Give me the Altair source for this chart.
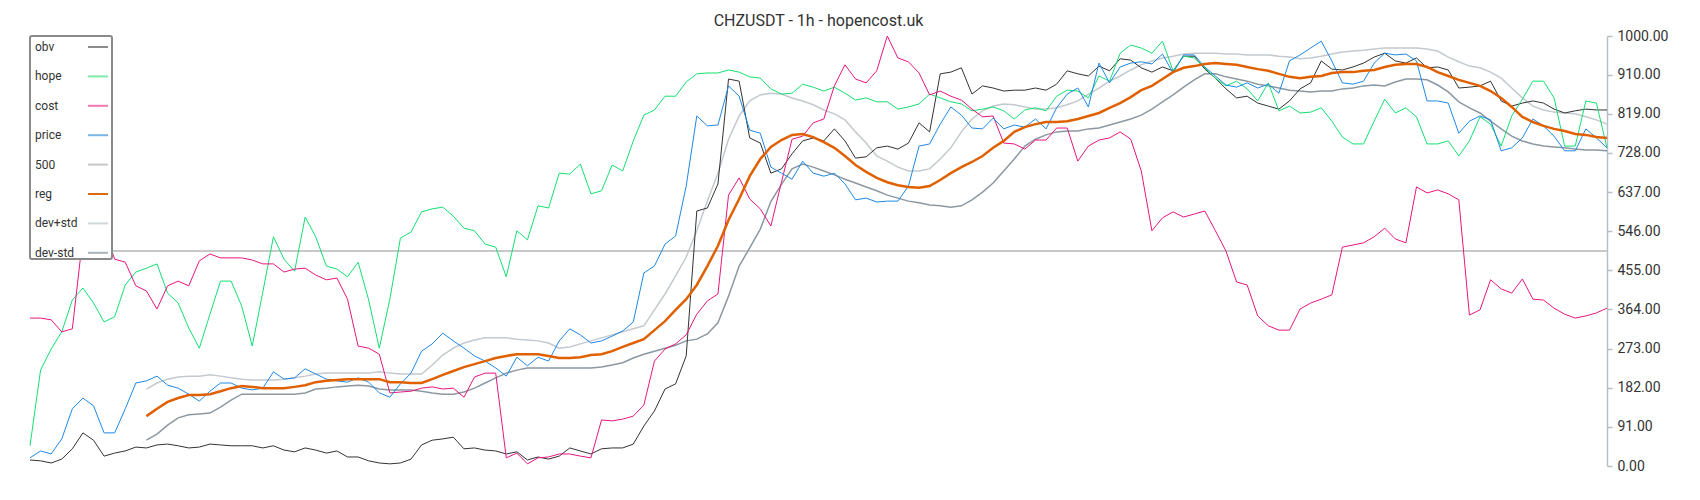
import altair as alt
import pandas as pd

# x positions: 150 evenly spaced samples across the chart
N = 150
idx = list(range(N))

obv = [14, 12, 7, 16, 40, 77, 60, 23, 30, 35,
       44, 42, 49, 51, 47, 42, 44, 51, 49, 47,
       47, 47, 42, 47, 37, 33, 42, 37, 30, 35,
       21, 21, 12, 7, 5, 7, 16, 49, 60, 63,
       67, 40, 42, 37, 35, 28, 33, 14, 21, 16,
       23, 42, 35, 28, 40, 42, 42, 51, 93, 128,
       179, 191, 256, 593, 600, 656, 900, 895, 763, 751,
       681, 691, 726, 756, 763, 756, 784, 756, 716, 719,
       740, 744, 737, 751, 798, 777, 912, 916, 926, 865,
       884, 879, 872, 874, 874, 879, 874, 888, 919, 912,
       907, 930, 919, 947, 944, 926, 916, 928, 919, 953,
       953, 923, 902, 877, 856, 860, 844, 837, 830, 849,
       877, 891, 942, 923, 921, 928, 937, 951, 960, 942,
       937, 949, 926, 928, 921, 879, 881, 884, 895, 849,
       837, 844, 849, 844, 830, 821, 826, 830, 828, 828]

hope = [47, 223, 272, 312, 386, 414, 379, 335, 347, 421,
        451, 460, 470, 402, 379, 321, 274, 353, 430, 430,
        372, 279, 405, 533, 481, 453, 579, 533, 465, 458,
        440, 474, 386, 274, 388, 530, 544, 591, 598, 602,
        581, 553, 547, 516, 509, 440, 547, 526, 605, 600,
        681, 679, 702, 633, 640, 700, 686, 756, 816, 828,
        860, 860, 893, 912, 914, 914, 921, 916, 905, 902,
        877, 865, 867, 888, 881, 872, 881, 867, 851, 856,
        847, 847, 830, 835, 842, 865, 856, 847, 842, 826,
        830, 835, 826, 807, 828, 833, 826, 860, 874, 872,
        856, 907, 895, 960, 979, 972, 960, 988, 919, 953,
        949, 926, 902, 884, 895, 877, 849, 891, 826, 837,
        821, 823, 833, 802, 765, 749, 749, 802, 853, 821,
        833, 812, 749, 749, 756, 721, 756, 812, 795, 744,
        814, 853, 895, 895, 856, 744, 744, 849, 844, 740]

cost = [344, 344, 340, 312, 319, 535, 558, 551, 481, 474,
        419, 407, 365, 419, 430, 419, 477, 493, 484, 484,
        484, 479, 470, 470, 451, 458, 460, 444, 433, 437,
        388, 279, 274, 260, 170, 172, 174, 181, 184, 179,
        181, 160, 207, 216, 216, 19, 30, 5, 19, 21,
        28, 28, 23, 19, 107, 105, 109, 116, 142, 244,
        272, 284, 305, 353, 384, 400, 630, 670, 621, 598,
        558, 660, 760, 767, 798, 807, 884, 933, 900, 891,
        919, 1000, 949, 940, 914, 863, 872, 860, 851, 830,
        812, 814, 751, 749, 737, 758, 758, 786, 786, 709,
        744, 758, 763, 777, 760, 686, 547, 577, 591, 579,
        586, 593, 547, 500, 428, 421, 349, 326, 316, 316,
        365, 379, 388, 398, 509, 514, 519, 533, 553, 528,
        519, 649, 635, 642, 633, 619, 351, 363, 433, 412,
        402, 435, 388, 386, 367, 353, 344, 349, 356, 367]

price = [19, 35, 28, 63, 133, 158, 140, 77, 77, 133,
         193, 198, 209, 188, 181, 167, 151, 174, 193, 193,
         181, 177, 181, 219, 202, 205, 226, 214, 202, 198,
         195, 205, 195, 170, 160, 191, 216, 267, 284, 309,
         291, 274, 256, 244, 228, 209, 253, 233, 253, 244,
         291, 319, 305, 286, 291, 302, 314, 335, 449, 465,
         516, 535, 651, 814, 791, 793, 884, 860, 781, 774,
         695, 681, 667, 709, 681, 674, 681, 656, 619, 623,
         614, 616, 616, 651, 744, 749, 795, 835, 816, 786,
         784, 809, 784, 793, 788, 807, 784, 833, 865, 879,
         835, 937, 891, 928, 937, 940, 935, 958, 914, 956,
         956, 928, 907, 886, 881, 891, 879, 888, 867, 942,
         956, 972, 988, 942, 891, 888, 895, 937, 960, 956,
         958, 942, 849, 849, 844, 774, 802, 814, 805, 733,
         740, 763, 807, 791, 767, 733, 733, 784, 763, 740]

REG_START = 11
reg = [116, 133, 149, 158, 165, 165, 167, 174, 181,
       186, 184, 181, 181, 181, 184, 188, 195, 198, 200,
       202, 202, 202, 202, 195, 195, 193, 193, 202, 212,
       221, 230, 237, 244, 251, 256, 260, 260, 260, 256,
       251, 251, 253, 258, 260, 267, 277, 286, 295, 316,
       337, 363, 388, 421, 465, 512, 572, 621, 674, 714,
       742, 758, 770, 772, 765, 753, 740, 721, 700, 684,
       670, 660, 653, 649, 647, 651, 665, 681, 695, 707,
       721, 740, 756, 777, 788, 795, 800, 800, 802, 807,
       814, 821, 833, 844, 858, 874, 884, 900, 916, 926,
       930, 935, 937, 935, 933, 928, 923, 919, 912, 905,
       902, 905, 907, 914, 916, 916, 919, 921, 928, 933,
       935, 935, 928, 916, 907, 898, 891, 884, 872, 856,
       835, 812, 800, 791, 784, 779, 772, 770, 765, 763]

dev_plus = [179, 193, 202, 207, 209, 209, 212, 209, 205,
            202, 200, 200, 200, 202, 205, 209, 214, 216, 216,
            216, 216, 216, 219, 216, 214, 214, 214, 235, 258,
            274, 286, 293, 298, 298, 298, 295, 293, 291, 286,
            274, 277, 284, 291, 298, 305, 312, 319, 326, 363,
            400, 442, 486, 547, 616, 681, 760, 814, 849, 863,
            867, 865, 856, 849, 840, 828, 819, 805, 777, 751,
            721, 709, 695, 686, 686, 691, 714, 740, 777, 807,
            826, 837, 842, 840, 835, 830, 830, 833, 840, 849,
            865, 879, 895, 907, 921, 933, 942, 949, 953, 958,
            960, 960, 960, 958, 958, 956, 956, 956, 953, 951,
            947, 949, 953, 958, 963, 965, 967, 970, 972, 972,
            972, 972, 970, 965, 951, 940, 930, 926, 916, 902,
            879, 856, 837, 828, 823, 821, 819, 812, 805, 795]

dev_minus = [60, 74, 95, 112, 119, 121, 123, 137, 153,
             167, 167, 167, 167, 167, 167, 170, 179, 181, 184,
             186, 188, 186, 179, 177, 177, 177, 174, 170, 167,
             167, 172, 181, 193, 205, 216, 223, 228, 228, 228,
             228, 228, 228, 228, 230, 235, 240, 251, 260, 267,
             274, 281, 291, 295, 307, 333, 395, 465, 507, 551,
             615, 655, 691, 702, 695, 686, 677, 667, 658, 649,
             640, 630, 623, 616, 612, 607, 605, 602, 605, 619,
             637, 658, 686, 714, 744, 760, 770, 777, 779, 779,
             784, 786, 793, 800, 807, 816, 830, 847, 863, 881,
             898, 912, 912, 905, 900, 895, 888, 884, 879, 874,
             872, 870, 872, 872, 877, 879, 884, 886, 884, 893,
             900, 900, 898, 886, 870, 847, 833, 821, 802, 784,
             767, 756, 749, 744, 742, 740, 737, 735, 735, 733]

level_500 = 500

y_ticks = [0, 91, 182, 273, 364, 455, 546, 637, 728, 819, 910, 1000]

series_order = ["obv", "hope", "cost", "price", "500", "reg", "dev+std", "dev-std"]
line_colors = {"obv": "#333333", "hope": "#14df72", "cost": "#e8157f", "price": "#1e88e5",
               "500": "#c8c8c8", "reg": "#e06000", "dev+std": "#c3c9ce", "dev-std": "#8c98a1"}
legend_colors = ["#8c8c8c", "#80eaa9", "#ef7ab6", "#7ab5e8", "#c8c8c8", "#dc6a10", "#d3d7db", "#aab2b9"]
widths = {"obv": 1, "hope": 1, "cost": 1, "price": 1, "500": 2,
          "reg": 2.5, "dev+std": 1.5, "dev-std": 1.5}

rows = []
for name, vals, start in [("obv", obv, 0), ("hope", hope, 0), ("cost", cost, 0),
                          ("price", price, 0), ("reg", reg, REG_START),
                          ("dev+std", dev_plus, REG_START), ("dev-std", dev_minus, REG_START)]:
    for k, v in enumerate(vals):
        rows.append({"x": idx[start + k], "value": v, "series": name})
for xx in (idx[0], idx[-1]):
    rows.append({"x": xx, "value": level_500, "series": "500"})
df = pd.DataFrame(rows)

x_enc = alt.X("x:Q", scale=alt.Scale(domain=[0, N - 1], nice=False, zero=False), axis=None)
y_enc = alt.Y("value:Q", scale=alt.Scale(domain=[0, 1000], nice=False),
              axis=alt.Axis(orient="right", values=y_ticks, format=".2f", title=None, grid=False,
                            labelFontSize=14, labelColor="#333333", labelFont="Roboto",
                            domainColor="#b7bfc6", domainWidth=1.5, tickColor="#b7bfc6",
                            tickWidth=1.5, tickSize=5, labelPadding=5))

# stroke scale in drawing order (kept distinct from the legend's colour scale)
draw_order = ["500", "dev+std", "dev-std", "obv", "hope", "cost", "price", "reg"]
stroke_scale = alt.Scale(domain=draw_order, range=[line_colors[s] for s in draw_order])

base = alt.Chart(df)
layers = []
for s in draw_order:
    layers.append(
        base.transform_filter(alt.datum.series == s)
        .mark_line(strokeWidth=widths[s])
        .encode(x=x_enc, y=y_enc,
                stroke=alt.Stroke("series:N", scale=stroke_scale, legend=None))
    )

legend_layer = (
    base.transform_filter("false")
    .mark_line(strokeWidth=2)
    .encode(x=x_enc, y=y_enc,
            color=alt.Color("series:N", scale=alt.Scale(domain=series_order, range=legend_colors),
                            legend=alt.Legend(title=None, orient="top-left", offset=0,
                                              symbolType="stroke", symbolSize=400,
                                              symbolStrokeWidth=2, symbolOffset=57,
                                              labelOffset={"expr": "-74"}, labelFontSize=12,
                                              labelColor="#333333", labelFont="Roboto",
                                              rowPadding=12.4, padding=0,
                                              fillColor="white", strokeColor="#8a8a8a",
                                              cornerRadius=2)))
)

chart = (
    alt.layer(*layers, legend_layer)
    .properties(width=1577, height=430,
                title=alt.TitleParams("CHZUSDT - 1h - hopencost.uk", fontSize=16,
                                      font="Roboto", fontWeight="normal", color="#333333",
                                      anchor="middle", offset=0),
                padding={"left": 18, "top": 5, "right": 5, "bottom": 5})
    .configure_view(strokeWidth=0)
    .configure_legend(strokeWidth=2)
)

chart.save("out.html", embed_options={"renderer": "svg", "actions": False})
